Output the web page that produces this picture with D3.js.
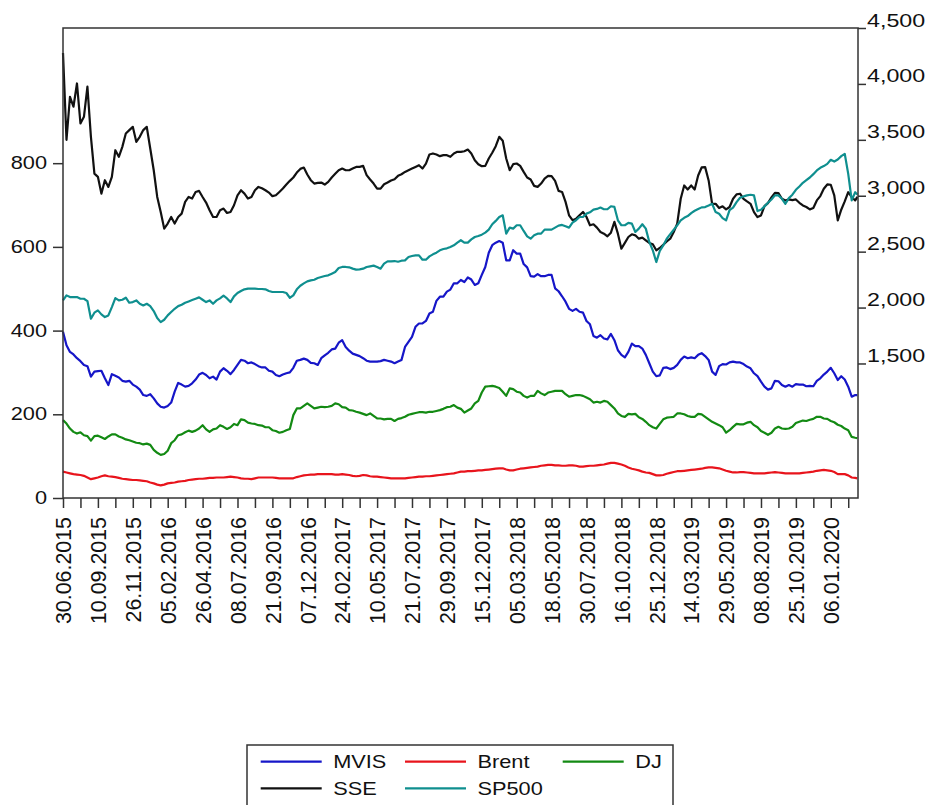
<!DOCTYPE html>
<html>
<head>
<meta charset="utf-8">
<script src="https://cdn.jsdelivr.net/npm/d3@7"></script>
<style>
  body { margin: 0; background: #fff; }
  svg { display: block; }
  text { font-family: "Liberation Sans", Arial, sans-serif; fill: #111; }
</style>
</head>
<body>
<svg id="chart" width="933" height="805"></svg>
<script>
// samples every 5th observation, plus the final observation
const step = 5;
const lastObs = 1138;

const dateLabels = ['30.06.2015','10.09.2015','26.11.2015','05.02.2016','26.04.2016','08.07.2016',
  '21.09.2016','07.12.2016','24.02.2017','10.05.2017','21.07.2017','29.09.2017','15.12.2017',
  '05.03.2018','18.05.2018','30.07.2018','16.10.2018','25.12.2018','14.03.2019','29.05.2019',
  '08.08.2019','25.10.2019','06.01.2020'];

// left axis series
const mvis = [397,365,349,343,334,327,318,315,290,302,
  303,304,286,270,296,292,288,280,278,280,
  271,266,259,246,244,248,238,226,218,216,
  220,228,254,275,271,266,268,274,283,295,
  299,294,286,290,283,302,310,304,296,306,
  318,330,328,322,324,320,315,312,312,304,
  302,294,291,295,298,300,311,328,330,333,
  330,323,322,318,334,341,347,355,357,371,
  377,361,352,345,342,339,334,328,326,326,
  326,327,330,328,326,322,326,330,361,373,
  385,409,417,417,423,441,445,471,481,481,
  493,498,513,513,521,516,527,522,509,513,
  533,552,586,604,610,614,610,568,568,592,
  584,584,559,551,530,529,535,530,530,533,
  533,501,494,482,469,452,447,452,445,443,
  423,415,387,383,389,381,379,392,377,353,
  342,336,349,369,363,363,357,342,322,302,
  291,293,311,312,308,311,318,330,338,334,
  336,334,342,346,339,330,302,294,315,320,
  319,324,326,324,324,320,314,310,298,291,
  278,266,259,262,280,279,270,266,270,266,
  272,271,271,267,268,267,280,286,295,302,
  311,298,282,291,283,266,242,246,246];

const brent = [63,61,59,57,56,55,53,49,45,47,
  49,52,54,52,51,50,48,46,45,44,
  43,43,42,41,40,37,35,32,30,32,
  35,36,37,39,40,41,43,44,45,46,
  46,47,48,48,49,49,49,50,51,50,
  49,47,46,46,45,47,49,49,49,49,
  49,48,47,47,47,47,47,50,52,54,
  55,56,56,57,57,57,57,57,56,56,
  57,56,55,53,52,53,55,54,52,51,
  51,50,49,48,47,47,47,47,47,48,
  49,50,51,51,52,52,53,54,55,56,
  57,58,59,61,63,63,64,64,65,66,
  66,67,68,69,70,71,71,68,66,66,
  68,70,71,72,73,74,75,77,78,79,
  79,78,78,77,77,78,78,77,75,75,
  76,77,77,78,79,80,82,84,84,82,
  80,77,73,70,68,66,63,61,60,57,
  54,54,55,58,60,62,64,64,65,66,
  67,68,69,70,72,73,73,72,71,68,
  65,63,61,61,62,62,61,60,59,59,
  59,59,60,61,62,61,60,59,59,59,
  59,59,60,61,62,63,65,66,67,66,
  65,62,57,57,57,54,49,48,47];

const dj = [186,178,166,158,154,157,150,148,137,148,
  149,145,141,147,152,152,147,144,140,138,
  135,132,131,128,130,127,115,108,103,105,
  113,131,138,150,152,157,161,158,161,166,
  174,164,158,164,166,174,170,165,169,177,
  174,188,186,180,178,177,174,173,169,169,
  162,160,156,158,162,165,198,214,214,220,
  226,220,214,216,218,217,218,220,226,224,
  217,216,210,209,206,204,201,198,202,196,
  190,190,188,189,189,184,189,191,194,199,
  201,203,205,205,204,206,206,208,210,213,
  217,218,222,216,213,204,209,214,226,232,
  252,266,267,268,266,263,254,244,262,260,
  254,252,244,240,244,244,256,250,246,252,
  254,256,256,256,248,242,244,246,246,244,
  240,236,228,230,228,232,230,222,214,202,
  196,194,201,200,201,193,189,182,174,169,
  166,177,188,192,193,194,202,202,200,196,
  194,194,201,200,194,188,182,178,174,169,
  156,162,170,177,176,176,180,182,174,169,
  160,156,151,156,166,170,166,165,166,170,
  179,182,185,184,187,189,194,194,190,189,
  184,181,175,172,166,162,146,144,143];

// right axis series
const sse = [4277,3500,3885,3796,4004,3646,3706,3975,3527,3198,
  3169,3019,3139,3079,3169,3407,3348,3437,3557,3587,
  3616,3482,3527,3587,3616,3422,3228,2989,2855,2706,
  2751,2810,2751,2810,2840,2945,2989,2975,3034,3043,
  2989,2939,2870,2810,2810,2870,2885,2846,2855,2915,
  3004,3049,3019,2975,2989,3049,3079,3067,3049,3028,
  2996,3004,3034,3064,3100,3133,3163,3207,3240,3252,
  3190,3139,3109,3115,3118,3100,3124,3163,3196,3228,
  3243,3228,3228,3243,3258,3258,3267,3184,3145,3109,
  3064,3064,3103,3118,3136,3148,3178,3192,3213,3228,
  3243,3258,3273,3243,3288,3369,3378,3369,3354,3363,
  3363,3348,3378,3393,3393,3398,3413,3378,3318,3282,
  3264,3267,3333,3384,3443,3527,3491,3333,3228,3282,
  3288,3267,3213,3163,3145,3088,3079,3109,3154,3178,
  3175,3133,3043,3034,2945,2825,2781,2793,2825,2855,
  2810,2736,2745,2715,2676,2661,2637,2670,2766,2661,
  2527,2578,2631,2655,2646,2616,2625,2601,2578,2566,
  2512,2533,2562,2592,2616,2675,2750,2973,3092,3056,
  3092,3056,3181,3253,3256,3137,2928,2928,2890,2905,
  2878,2899,2973,3012,3018,2973,2949,2928,2854,2809,
  2824,2907,2934,2985,3026,3024,2973,2958,2967,2961,
  2967,2937,2913,2899,2878,2890,2958,2997,3062,3101,
  3098,3003,2780,2875,2949,3032,2988,2958,2990];

const sp500 = [2064,2109,2094,2094,2094,2079,2079,2058,1900,1954,
  1975,1939,1915,1930,2004,2085,2064,2070,2088,2043,
  2049,2064,2034,2019,2034,2013,1969,1906,1870,1891,
  1930,1960,1989,2013,2025,2043,2055,2067,2079,2091,
  2070,2049,2064,2034,2064,2082,2106,2082,2049,2100,
  2130,2148,2163,2169,2169,2169,2166,2166,2163,2148,
  2139,2139,2139,2139,2130,2088,2109,2163,2195,2216,
  2234,2243,2249,2264,2273,2282,2288,2303,2318,2354,
  2363,2363,2360,2348,2339,2342,2348,2363,2369,2375,
  2363,2348,2393,2413,2413,2416,2410,2419,2422,2452,
  2461,2467,2467,2428,2428,2458,2476,2491,2512,2524,
  2530,2542,2557,2581,2602,2581,2581,2610,2631,2640,
  2652,2670,2697,2745,2775,2810,2825,2661,2715,2706,
  2736,2736,2685,2637,2616,2646,2661,2661,2697,2697,
  2697,2715,2733,2739,2727,2715,2760,2781,2810,2810,
  2840,2852,2876,2882,2894,2879,2879,2906,2900,2780,
  2736,2736,2757,2751,2676,2706,2745,2706,2587,2512,
  2407,2506,2556,2616,2657,2696,2735,2780,2803,2818,
  2845,2866,2881,2896,2899,2913,2928,2854,2839,2800,
  2780,2872,2893,2943,2982,2994,3003,3009,3003,2863,
  2875,2905,2937,2967,3003,3003,2973,2928,2979,3009,
  3053,3083,3116,3140,3163,3193,3226,3250,3265,3285,
  3321,3306,3324,3354,3375,3196,2958,3032,3010];

const leftTicks = [0, 200, 400, 600, 800];
const rightTicks = [1500, 2000, 2500, 3000, 3500, 4000, 4500];

const seriesNames = ['MVIS', 'Brent', 'DJ', 'SSE', 'SP500'];
const seriesColors = ['#1616c8', '#e8141c', '#138a13', '#111111', '#0f8f8f'];

const obs = mvis.map((d, k) => k === mvis.length - 1 ? lastObs : k * step);

const plot = { left: 63, right: 858, top: 28, bottom: 498 };

const svg = d3.select('#chart');

const x = d3.scaleLinear().domain([0, 1139]).range([plot.left, plot.right]);
const yL = d3.scaleLinear().domain([0, 1123]).range([plot.bottom, plot.top]);
const yR = d3.scaleLinear().domain([297, 4500]).range([plot.bottom, plot.top]);

// lines
const series = [
  { values: mvis, y: yL },
  { values: brent, y: yL },
  { values: dj, y: yL },
  { values: sse, y: yR },
  { values: sp500, y: yR }
];

const lines = svg.append('g');
series.forEach((s, i) => {
  const line = d3.line()
    .x((d, k) => x(obs[k]))
    .y(d => s.y(d));
  lines.append('path')
    .datum(s.values)
    .attr('d', line)
    .attr('fill', 'none')
    .attr('stroke', seriesColors[i])
    .attr('stroke-width', 2.2)
    .attr('stroke-linejoin', 'round');
});

// frame
svg.append('rect')
  .attr('x', plot.left).attr('y', plot.top)
  .attr('width', plot.right - plot.left).attr('height', plot.bottom - plot.top)
  .attr('fill', 'none').attr('stroke', '#333').attr('stroke-width', 1.5);

// stretch text horizontally around its anchor point
function stretch(sel, f) {
  sel.each(function () {
    const t = d3.select(this);
    const tx = +t.attr('x') || 0;
    const ty = +t.attr('y') || 0;
    t.attr('x', 0).attr('y', 0)
      .attr('transform', `translate(${tx},${ty}) scale(${f},1)`);
  });
}

// left axis
const gL = svg.append('g').attr('transform', `translate(${plot.left},0)`)
  .call(d3.axisLeft(yL).tickValues(leftTicks).tickSize(10).tickPadding(6).tickFormat(d3.format('d')));
gL.select('.domain').remove();
gL.selectAll('line').attr('stroke', '#333').attr('stroke-width', 1.5);
gL.selectAll('text').attr('font-size', 18.6).attr('dy', null).attr('y', 5.5);
stretch(gL.selectAll('text'), 1.17);

// right axis
const gR = svg.append('g').attr('transform', `translate(${plot.right},0)`)
  .call(d3.axisRight(yR).tickValues(rightTicks).tickSize(8).tickPadding(1).tickFormat(d3.format(',')));
gR.select('.domain').remove();
gR.selectAll('line').attr('stroke', '#333').attr('stroke-width', 1.5);
gR.selectAll('text').attr('font-size', 18.6).attr('dy', null).attr('y', -2);
stretch(gR.selectAll('text'), 1.25);

// bottom axis, a tick every 25 observations, a date every 50
const gB = svg.append('g').attr('transform', `translate(0,${plot.bottom})`)
  .call(d3.axisBottom(x).tickValues(d3.range(0, 1139, 25)).tickSize(10)
    .tickFormat(d => d % 50 === 0 ? dateLabels[d / 50] : ''));
gB.select('.domain').remove();
gB.selectAll('line').attr('stroke', '#333').attr('stroke-width', 1.5);
gB.selectAll('text')
  .attr('font-size', 21.4)
  .attr('text-anchor', 'end')
  .attr('transform', 'rotate(-90)')
  .attr('x', -19)
  .attr('y', 0)
  .attr('dy', '0.36em');

// legend
const legend = svg.append('g');
legend.append('rect')
  .attr('x', 247).attr('y', 745).attr('width', 426).attr('height', 75)
  .attr('fill', '#fff').attr('stroke', '#333').attr('stroke-width', 1.5);

const legendCols = [260.7, 405, 562.7];
const legendRows = [761.7, 788.3];
seriesNames.forEach((name, i) => {
  const cx = legendCols[i % 3];
  const cy = legendRows[Math.floor(i / 3)];
  legend.append('line')
    .attr('x1', cx).attr('x2', cx + 61)
    .attr('y1', cy).attr('y2', cy)
    .attr('stroke', seriesColors[i]).attr('stroke-width', 2.2);
  legend.append('text')
    .attr('x', cx + 72.5).attr('y', cy + 6.6)
    .attr('font-size', 18.6)
    .text(name);
});
stretch(legend.selectAll('text'), 1.17);
</script>
</body>
</html>
